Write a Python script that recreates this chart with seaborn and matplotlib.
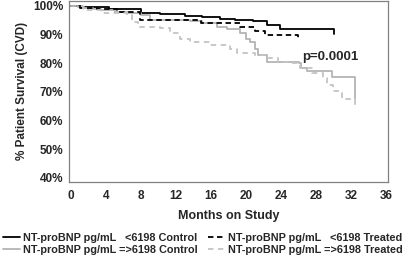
import pandas as pd
import matplotlib
matplotlib.use("Agg")
import matplotlib.pyplot as plt
import seaborn as sns
from matplotlib.lines import Line2D

# Curvas de supervivencia (meses, % supervivencia)
lo_ctrl_t = [0, 1.3, 4.3, 8.0, 10.2, 13.0, 15.0, 17.0, 18.7, 20.8, 22.4, 23.9, 30.1]
lo_ctrl_s = [100, 99.5, 99.0, 97.6, 97.1, 96.6, 96.0, 95.5, 95.0, 94.6, 93.3, 91.8, 90.2]

lo_trt_t = [0, 1.0, 3.0, 5.3, 7.9, 14.8, 19.3, 21.0, 22.2, 25.9]
lo_trt_s = [100, 99.4, 98.8, 98.0, 95.1, 93.9, 92.7, 91.4, 90.0, 88.8]

hi_ctrl_t = [0, 0.8, 1.5, 2.5, 3.4, 5.0, 6.5, 8.0, 9.0, 13.6, 15.0, 16.7, 17.8, 19.3,
             20.0, 20.4, 21.0, 21.4, 22.4, 26.0, 26.3, 27.0, 29.8, 32.5]
hi_ctrl_s = [100, 99.6, 99.2, 98.9, 98.6, 98.0, 97.5, 96.8, 95.2, 94.8, 94.0, 92.7, 91.8, 90.5,
             88.6, 87.5, 85.0, 82.8, 80.4, 80.0, 78.2, 77.2, 75.2, 67.7]

hi_trt_t = [0, 1.4, 3.4, 6.4, 7.0, 7.6, 10.2, 11.3, 12.5, 13.6, 15.9, 18.2, 19.0, 21.0,
            22.4, 23.6, 25.0, 26.2, 27.5, 28.8, 29.3, 29.9, 30.7, 31.0, 32.5]
hi_trt_s = [100, 98.6, 97.4, 96.8, 94.5, 92.7, 92.3, 90.5, 88.5, 87.4, 86.3, 85.0, 83.5, 82.8,
            81.8, 80.4, 80.0, 78.2, 76.5, 74.7, 72.3, 70.5, 69.5, 67.6, 64.2]

grupos = ["NT-proBNP pg/mL   <6198 Control",
          "NT-proBNP pg/mL =>6198 Control",
          "NT-proBNP pg/mL   <6198 Treated",
          "NT-proBNP pg/mL =>6198 Treated"]

frames = []
for g, t, s in zip(grupos, [lo_ctrl_t, hi_ctrl_t, lo_trt_t, hi_trt_t],
                   [lo_ctrl_s, hi_ctrl_s, lo_trt_s, hi_trt_s]):
    frames.append(pd.DataFrame({"grupo": g, "mes": t, "surv": s}))
df = pd.concat(frames, ignore_index=True)

sns.set_style("white")
plt.rcParams["font.family"] = ["Liberation Sans", "DejaVu Sans"]
plt.rcParams["font.weight"] = "bold"

colores = {grupos[0]: "black", grupos[1]: "#b4b4b4", grupos[2]: "black", grupos[3]: "#c4c4c4"}
trazos = {grupos[0]: "", grupos[1]: "", grupos[2]: (3, 2), grupos[3]: (3, 2.5)}

fig = plt.figure(figsize=(4.1, 2.58), dpi=100)
ax = fig.add_axes([0.168, 0.296, 0.778, 0.702])

sns.lineplot(data=df, x="mes", y="surv", hue="grupo", style="grupo",
             palette=colores, dashes=trazos, drawstyle="steps-post",
             estimator=None, legend=False, linewidth=1.3, ax=ax)

ax.set_xlim(-0.25, 36.2)
ax.set_ylim(38.7, 101.9)
ax.set_xticks(range(0, 37, 4))
ax.set_yticks(range(40, 101, 10))
ax.set_yticklabels([f"{v}%" for v in range(40, 101, 10)])
ax.tick_params(axis="x", direction="in", length=3, color="#808080", labelsize=8.5, pad=6)
ax.tick_params(axis="y", direction="out", length=3, color="#808080", labelsize=8.5, pad=1)
for sp in ax.spines.values():
    sp.set_color("#808080")
    sp.set_linewidth(0.9)

ax.set_xlabel("Months on Study", fontsize=9, fontweight="bold", labelpad=6)
ax.set_ylabel("% Patient Survival (CVD)", fontsize=8.5, fontweight="bold", labelpad=4)

ax.text(26.4, 82.2, "p=0.0001", fontsize=9.5, fontweight="bold", va="center")

handles = [Line2D([], [], color=colores[g], linestyle="-" if trazos[g] == "" else (0, trazos[g]),
                  linewidth=1.3) for g in grupos]
fig.legend(handles, grupos, ncol=2, loc="lower left", bbox_to_anchor=(0.0, 0.0),
           frameon=False, fontsize=7.8, handlelength=1.5, handletextpad=0.3,
           columnspacing=1.0, labelspacing=0.15, borderpad=0.1, borderaxespad=0.2)

fig.savefig("out.png", dpi=100)
